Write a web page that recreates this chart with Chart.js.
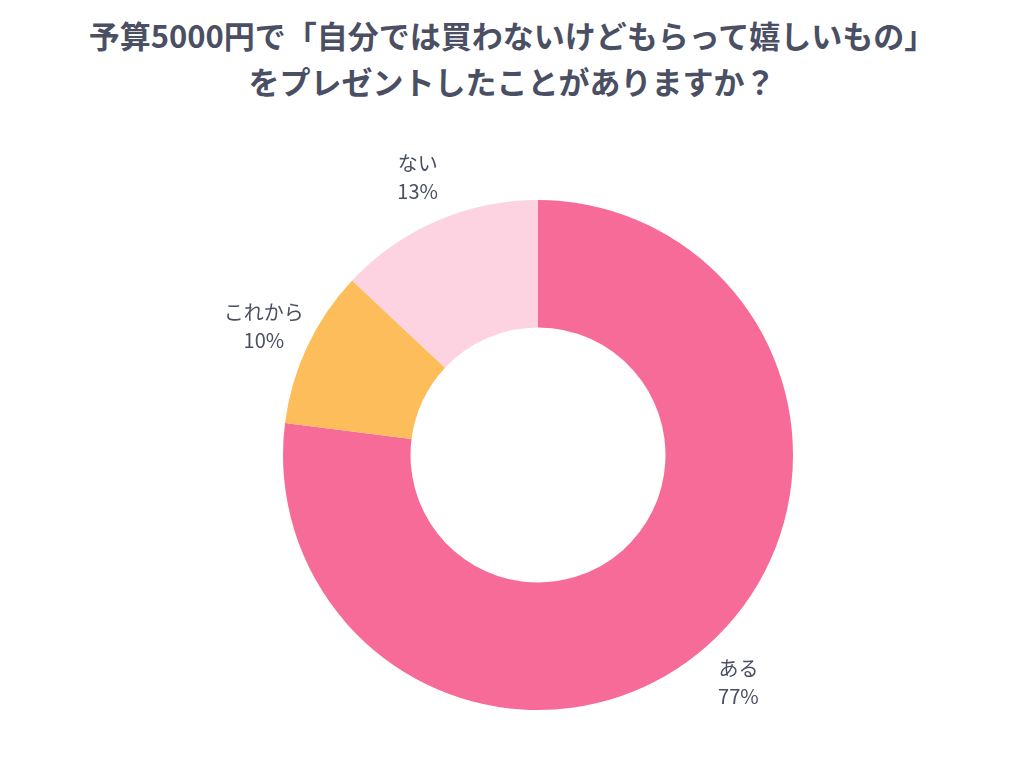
<!DOCTYPE html>
<html><head><meta charset="utf-8">
<script src="https://cdn.jsdelivr.net/npm/chart.js@4"></script>
<style>
html,body{margin:0;padding:0;background:#fff;}
#wrap{position:relative;width:1024px;height:768px;}
#title{position:absolute;top:12px;left:0;width:1024px;text-align:center;font-family:"Noto Sans CJK JP";font-weight:700;font-size:31px;line-height:46px;color:#4a4f63;}
canvas{position:absolute;top:0;left:0;}
</style></head><body>
<div id="wrap">
<div id="title">予算5000円で「自分では買わないけどもらって嬉しいもの」<br>をプレゼントしたことがありますか？</div>
<canvas id="c" width="1024" height="768"></canvas>
</div>
<script>
const categories = ["ある","これから","ない"];
const values = [77,10,13];
const colors = ["#f76b98","#fdbd5a","#fdd3e1"];
const labelPlugin = {
  id:'lbl',
  afterDraw(chart){
    const ctx = chart.ctx;
    const meta = chart.getDatasetMeta(0);
    ctx.save();
    ctx.font = '20px "Noto Sans CJK JP"';
    ctx.fillStyle = '#4a4f63';
    ctx.textAlign = 'center';
    ctx.textBaseline = 'middle';
    meta.data.forEach((arc,i)=>{
      const a = (arc.startAngle+arc.endAngle)/2;
      const r = arc.outerRadius + 48;
      const x = arc.x + Math.cos(a)*r, y = arc.y + Math.sin(a)*r;
      ctx.fillText(categories[i], x, y-14);
      ctx.fillText(values[i]+'%', x, y+14);
    });
    ctx.restore();
  }
};
new Chart(document.getElementById('c'),{
  type:'doughnut',
  data:{labels:categories,datasets:[{data:values,backgroundColor:colors,borderWidth:0}]},
  options:{responsive:false,animation:false,cutout:'50%',
    layout:{padding:{top:200,bottom:58,left:283,right:231}},
    plugins:{legend:{display:false},tooltip:{enabled:false}}},
  plugins:[labelPlugin]
});
</script>
</body></html>
